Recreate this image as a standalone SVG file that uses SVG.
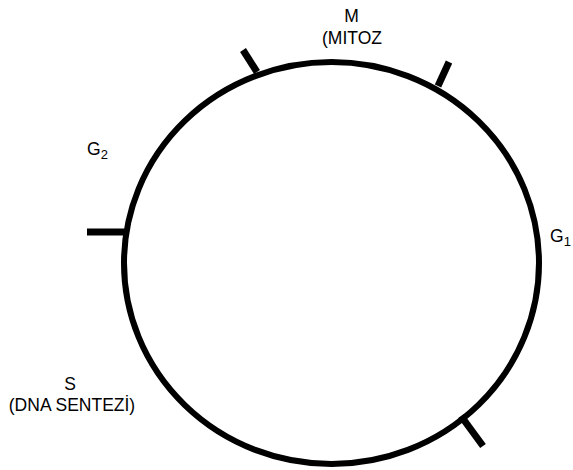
<svg xmlns="http://www.w3.org/2000/svg" width="573" height="470" viewBox="0 0 573 470">
<style>
.ring{fill:none;stroke:#000;stroke-width:6}
.tick{stroke:#000;stroke-width:7;stroke-linecap:butt}
.lbl{font-family:"Liberation Sans",Arial,sans-serif;font-size:17.5px;fill:#000}
.sub{font-family:"Liberation Sans",Arial,sans-serif;font-size:13px;fill:#000}
</style>
<g id="cycle">
<ellipse class="ring" cx="331.5" cy="263" rx="207.5" ry="201"/>
</g>
<g id="connectors">
<line class="tick" x1="243" y1="50" x2="257" y2="72"/>
<line class="tick" x1="449" y1="62" x2="438" y2="86"/>
<line class="tick" x1="87" y1="232" x2="125" y2="232"/>
<line class="tick" x1="461" y1="416" x2="483" y2="446"/>
</g>
<g id="M">
<text class="lbl" x="351.5" y="22" text-anchor="middle">M</text>
<text class="lbl" x="352" y="44" text-anchor="middle">(MITOZ</text>
</g>
<g id="G2">
<text class="lbl" x="87" y="155">G<tspan class="sub" dy="4">2</tspan></text>
</g>
<g id="G1">
<text class="lbl" x="550" y="242">G<tspan class="sub" dy="4">1</tspan></text>
</g>
<g id="S">
<text class="lbl" x="70" y="390" text-anchor="middle">S</text>
<text class="lbl" x="72" y="411" text-anchor="middle">(DNA SENTEZİ)</text>
</g>
</svg>
